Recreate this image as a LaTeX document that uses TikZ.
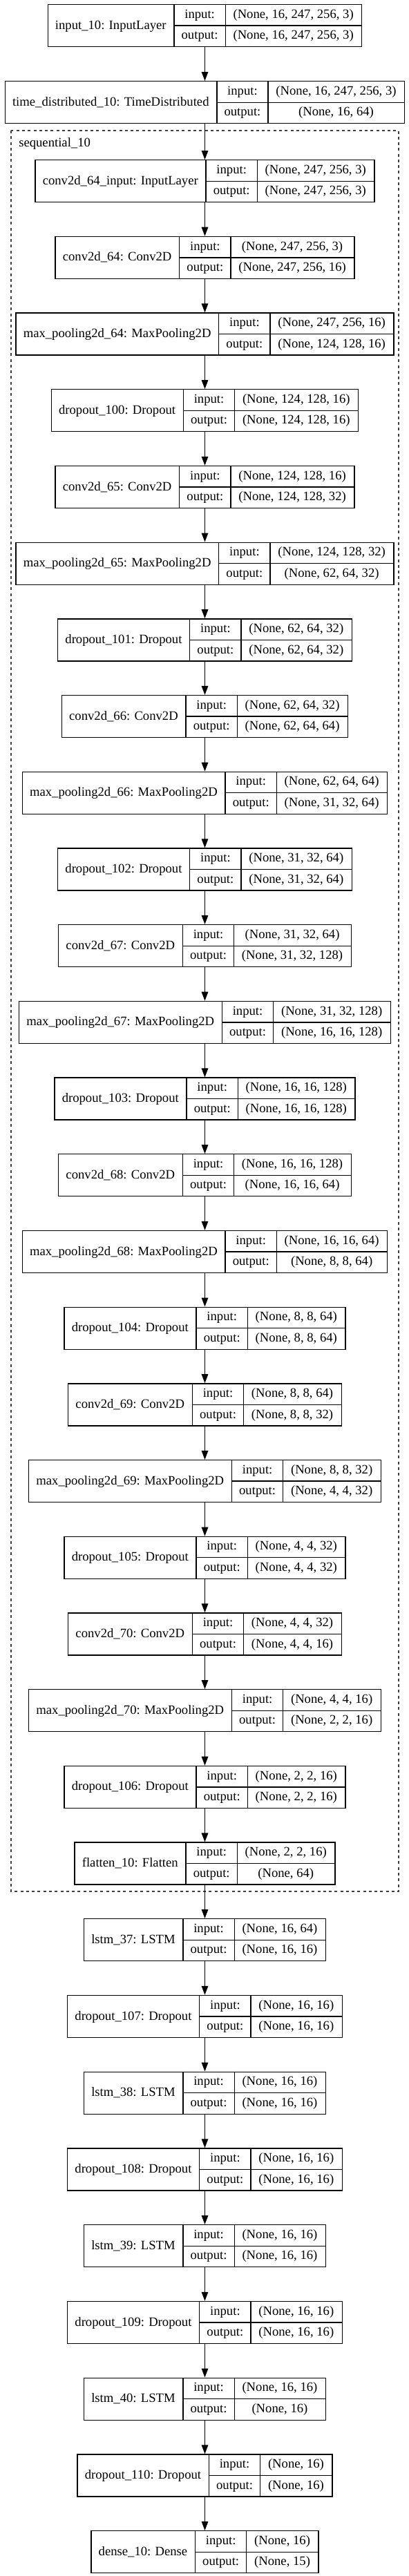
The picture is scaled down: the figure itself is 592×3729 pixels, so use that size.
\documentclass[tikz,border=0pt]{standalone}
\usepackage{fontspec}
\setmainfont{Liberation Serif}
\usetikzlibrary{arrows.meta,calc}
\newlength\lwA \newlength\lwB \newlength\lwC \newlength\lwT
\newcommand\fs{\fontsize{14pt}{16pt}\selectfont}
\newcommand\meas[2]{\settowidth#1{\pgfinterruptpicture\fs #2\endpgfinterruptpicture}}
\tikzset{
  rec/.style={draw, line width=1pt, anchor=north, inner sep=0pt, minimum height=45.75pt},
  txt/.style={anchor=base, inner sep=0pt, font=\fs},
  sep/.style={line width=1pt},
  arr/.style={line width=1pt, -{Triangle[length=9.75pt,width=7.2pt]}},
  clus/.style={line width=0.9pt, dash pattern=on 3pt off 3.2pt, draw=black!75}
}
\newcommand\layerrec[5]{%
  \meas\lwA{#3}\addtolength\lwA{17pt}%
  \meas\lwB{output:}\addtolength\lwB{16pt}%
  \meas\lwC{#4}\meas\lwT{#5}%
  \ifdim\lwT>\lwC \lwC=\lwT\fi
  \addtolength\lwC{17pt}%
  \lwT=\dimexpr\lwA+\lwB+\lwC\relax
  \node[rec, minimum width=\lwT] (#1) at (296.5,#2) {};
  \coordinate (#1-a) at ($(#1.north west)+(\lwA,0pt)$);
  \coordinate (#1-b) at ($(#1-a)+(\lwB,0pt)$);
  \draw[sep] (#1-a) -- (#1-a |- #1.south);
  \draw[sep] (#1-b) -- (#1-b |- #1.south);
  \draw[sep] (#1-a |- #1.west) -- (#1.east);
  \node[txt] (#1-lab) at ($(#1.west)+(0.5*\lwA,-3.8pt)$) {#3};
  \node[txt] (#1-ik) at ($(#1-a)+(0.5*\lwB,-15.24pt)$) {input:};
  \node[txt] (#1-ok) at ($(#1-a)+(0.5*\lwB,-38.1pt)$) {output:};
  \node[txt] (#1-iv) at ($(#1-b)+(0.5*\lwC,-15.24pt)$) {#4};
  \node[txt] (#1-ov) at ($(#1-b)+(0.5*\lwC,-38.1pt)$) {#5};
}
\begin{document}
\begin{tikzpicture}[x=0.75pt,y=-0.75pt]
\useasboundingbox (0,0) rectangle (592,3729);
% cluster
\draw[clus] (16,189) rectangle (577,2738);
\node[txt, anchor=base west] (clab) at (27,212) {sequential\_10};
\layerrec{n1}{6}{input\_10: InputLayer}{(None, 16, 247, 256, 3)}{(None, 16, 247, 256, 3)}
\layerrec{n2}{117}{time\_distributed\_10: TimeDistributed}{(None, 16, 247, 256, 3)}{(None, 16, 64)}
\layerrec{c0}{231.0}{conv2d\_64\_input: InputLayer}{(None, 247, 256, 3)}{(None, 247, 256, 3)}
\layerrec{c1}{341.7}{conv2d\_64: Conv2D}{(None, 247, 256, 3)}{(None, 247, 256, 16)}
\layerrec{c2}{452.4}{max\_pooling2d\_64: MaxPooling2D}{(None, 247, 256, 16)}{(None, 124, 128, 16)}
\layerrec{c3}{563.1}{dropout\_100: Dropout}{(None, 124, 128, 16)}{(None, 124, 128, 16)}
\layerrec{c4}{673.8}{conv2d\_65: Conv2D}{(None, 124, 128, 16)}{(None, 124, 128, 32)}
\layerrec{c5}{784.5}{max\_pooling2d\_65: MaxPooling2D}{(None, 124, 128, 32)}{(None, 62, 64, 32)}
\layerrec{c6}{895.2}{dropout\_101: Dropout}{(None, 62, 64, 32)}{(None, 62, 64, 32)}
\layerrec{c7}{1005.9}{conv2d\_66: Conv2D}{(None, 62, 64, 32)}{(None, 62, 64, 64)}
\layerrec{c8}{1116.6}{max\_pooling2d\_66: MaxPooling2D}{(None, 62, 64, 64)}{(None, 31, 32, 64)}
\layerrec{c9}{1227.3}{dropout\_102: Dropout}{(None, 31, 32, 64)}{(None, 31, 32, 64)}
\layerrec{c10}{1338.0}{conv2d\_67: Conv2D}{(None, 31, 32, 64)}{(None, 31, 32, 128)}
\layerrec{c11}{1448.7}{max\_pooling2d\_67: MaxPooling2D}{(None, 31, 32, 128)}{(None, 16, 16, 128)}
\layerrec{c12}{1559.4}{dropout\_103: Dropout}{(None, 16, 16, 128)}{(None, 16, 16, 128)}
\layerrec{c13}{1670.1}{conv2d\_68: Conv2D}{(None, 16, 16, 128)}{(None, 16, 16, 64)}
\layerrec{c14}{1780.8}{max\_pooling2d\_68: MaxPooling2D}{(None, 16, 16, 64)}{(None, 8, 8, 64)}
\layerrec{c15}{1891.5}{dropout\_104: Dropout}{(None, 8, 8, 64)}{(None, 8, 8, 64)}
\layerrec{c16}{2002.2}{conv2d\_69: Conv2D}{(None, 8, 8, 64)}{(None, 8, 8, 32)}
\layerrec{c17}{2112.9}{max\_pooling2d\_69: MaxPooling2D}{(None, 8, 8, 32)}{(None, 4, 4, 32)}
\layerrec{c18}{2223.6}{dropout\_105: Dropout}{(None, 4, 4, 32)}{(None, 4, 4, 32)}
\layerrec{c19}{2334.3}{conv2d\_70: Conv2D}{(None, 4, 4, 32)}{(None, 4, 4, 16)}
\layerrec{c20}{2445.0}{max\_pooling2d\_70: MaxPooling2D}{(None, 4, 4, 16)}{(None, 2, 2, 16)}
\layerrec{c21}{2555.7}{dropout\_106: Dropout}{(None, 2, 2, 16)}{(None, 2, 2, 16)}
\layerrec{c22}{2666.4}{flatten\_10: Flatten}{(None, 2, 2, 16)}{(None, 64)}
\layerrec{l0}{2777}{lstm\_37: LSTM}{(None, 16, 64)}{(None, 16, 16)}
\layerrec{l1}{2887.75}{dropout\_107: Dropout}{(None, 16, 16)}{(None, 16, 16)}
\layerrec{l2}{2998.5}{lstm\_38: LSTM}{(None, 16, 16)}{(None, 16, 16)}
\layerrec{l3}{3109.25}{dropout\_108: Dropout}{(None, 16, 16)}{(None, 16, 16)}
\layerrec{l4}{3220}{lstm\_39: LSTM}{(None, 16, 16)}{(None, 16, 16)}
\layerrec{l5}{3330.75}{dropout\_109: Dropout}{(None, 16, 16)}{(None, 16, 16)}
\layerrec{l6}{3441.5}{lstm\_40: LSTM}{(None, 16, 16)}{(None, 16)}
\layerrec{l7}{3552.25}{dropout\_110: Dropout}{(None, 16)}{(None, 16)}
\layerrec{l8}{3663}{dense\_10: Dense}{(None, 16)}{(None, 15)}
% edges
\foreach \a/\b in {n1/n2,n2/c0,c0/c1,c1/c2,c2/c3,c3/c4,c4/c5,c5/c6,c6/c7,c7/c8,c8/c9,c9/c10,c10/c11,c11/c12,c12/c13,c13/c14,c14/c15,c15/c16,c16/c17,c17/c18,c18/c19,c19/c20,c20/c21,c21/c22,c22/l0,l0/l1,l1/l2,l2/l3,l3/l4,l4/l5,l5/l6,l6/l7,l7/l8}
  \draw[arr] (\a.south) -- (\b.north);
\end{tikzpicture}
\end{document}
